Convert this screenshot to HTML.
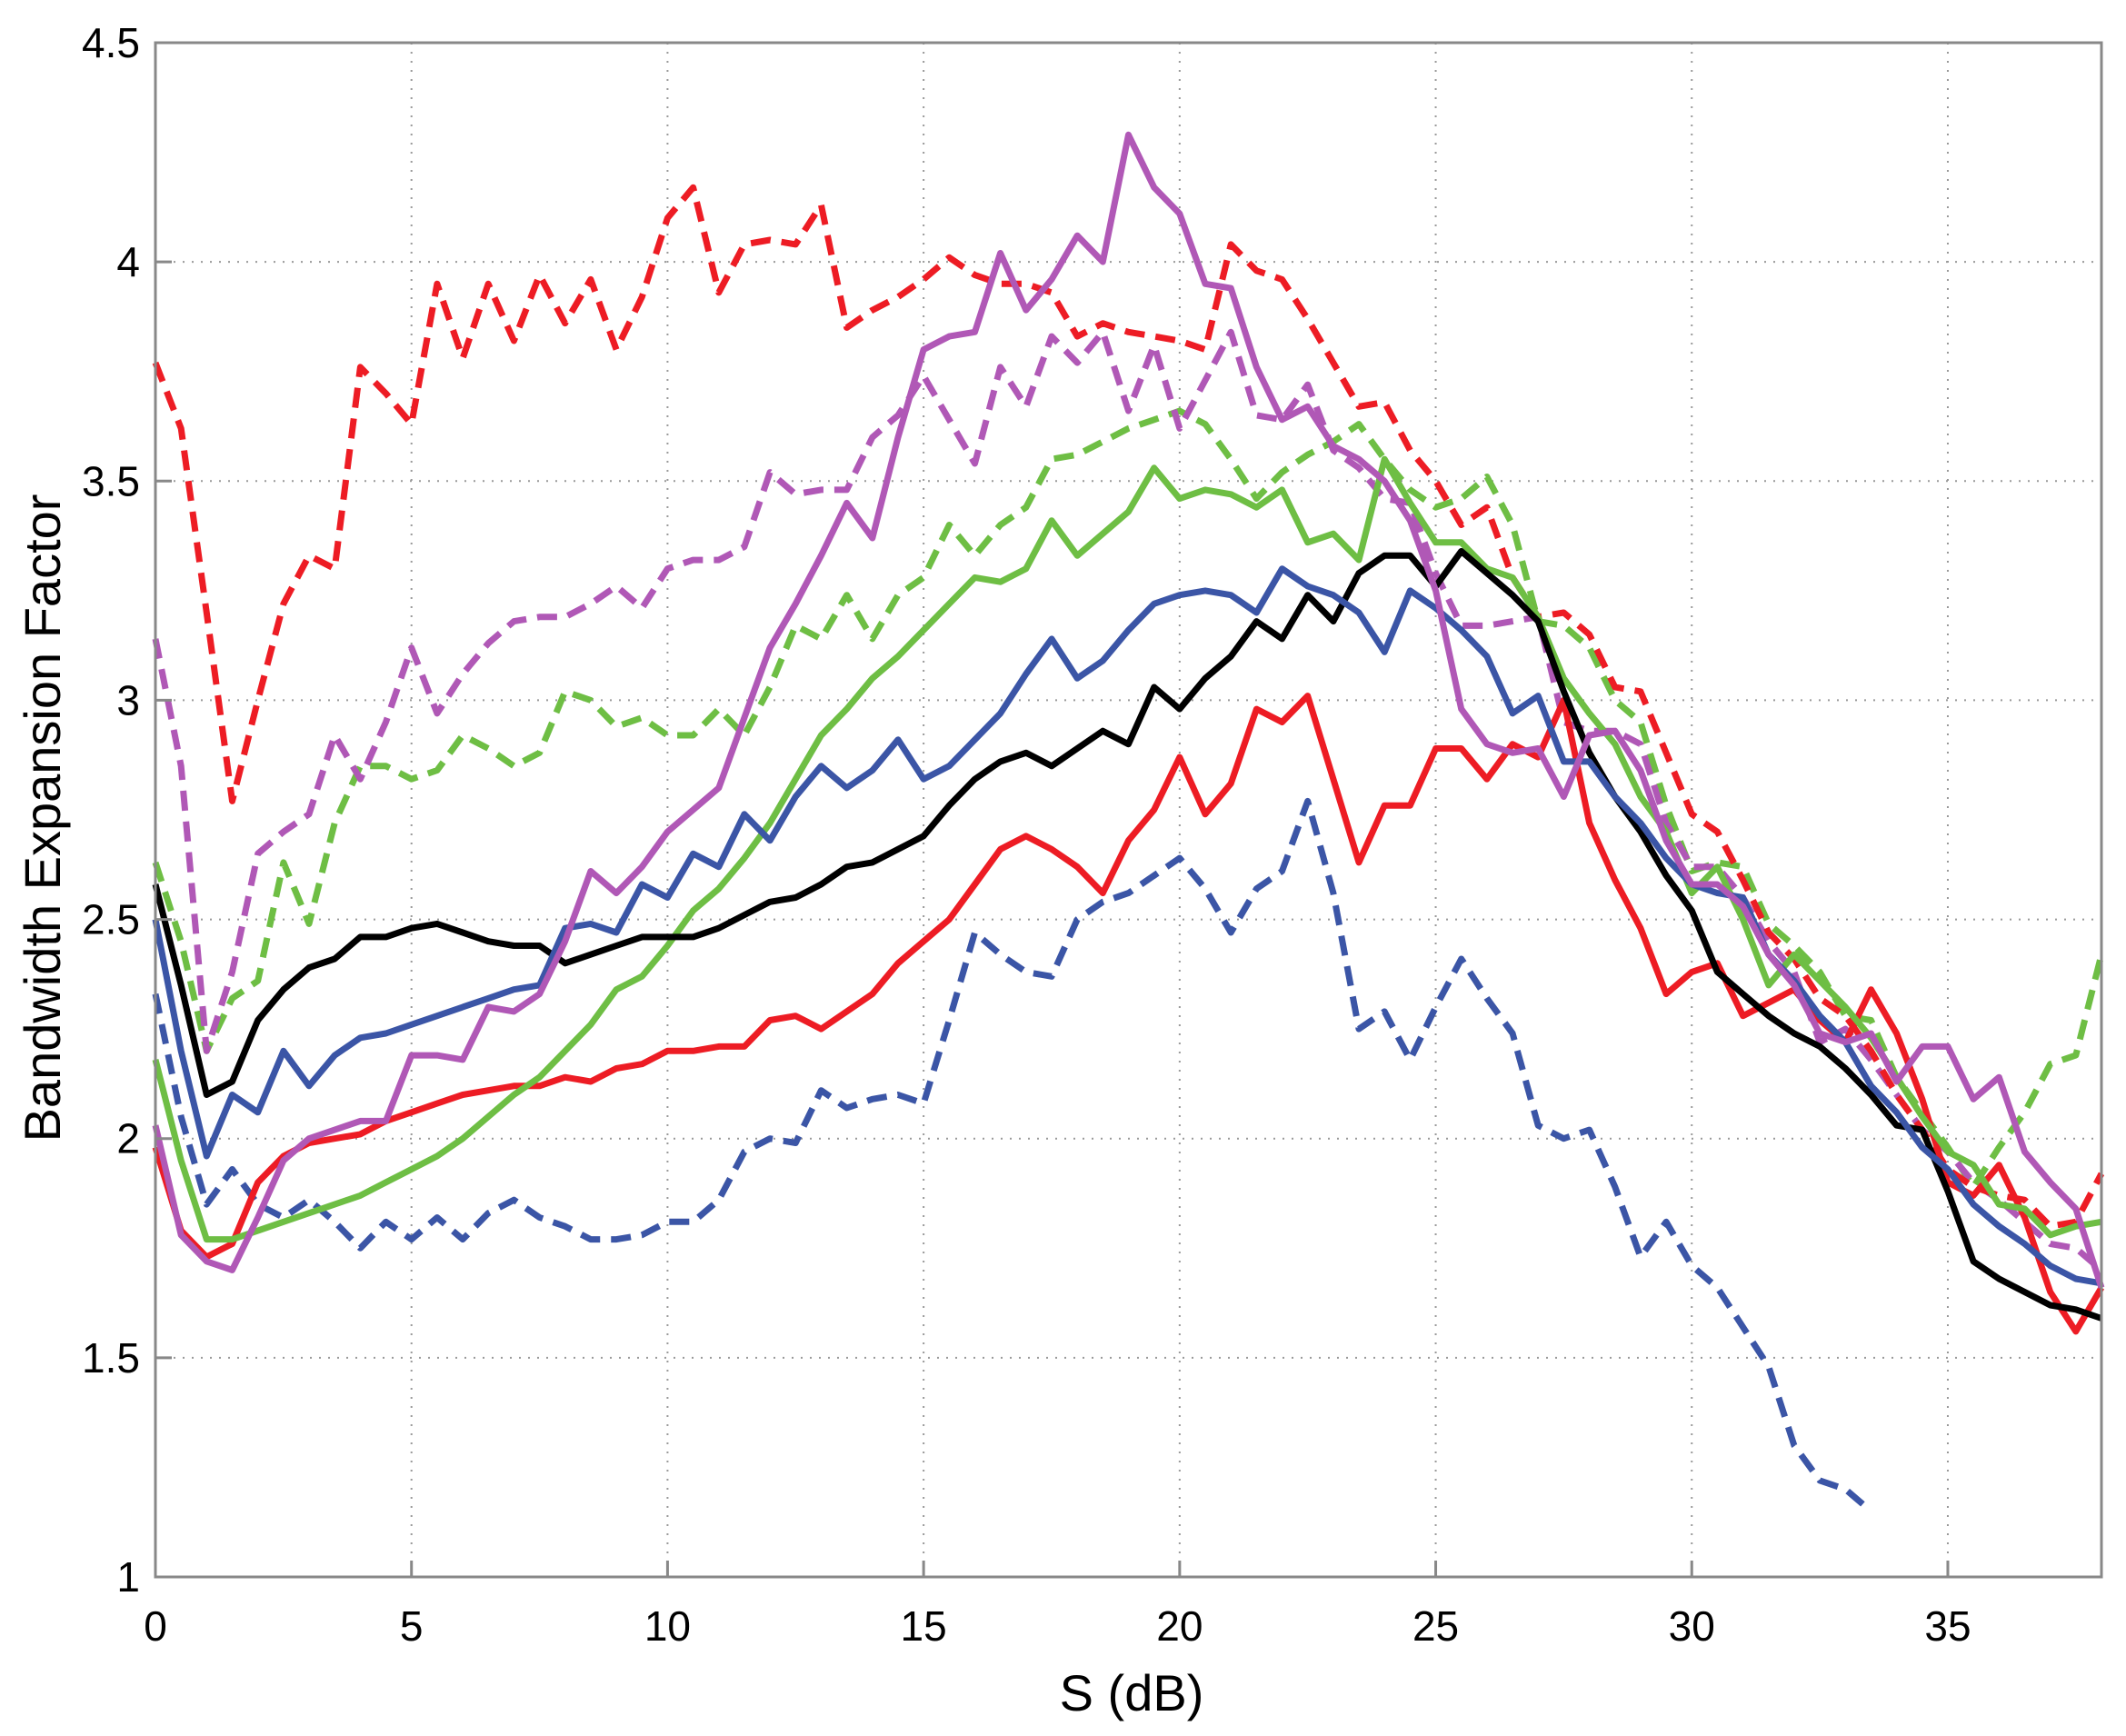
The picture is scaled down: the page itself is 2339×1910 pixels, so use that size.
<!DOCTYPE html>
<html><head><meta charset="utf-8"><style>
html,body{margin:0;padding:0;background:#fff;}
svg{display:block;font-family:"Liberation Sans",Arial,sans-serif;}
</style></head><body>
<svg id="chart" width="2339" height="1910" viewBox="0 0 2339 1910" xmlns="http://www.w3.org/2000/svg">
<g id="grid"></g>
<g id="series"></g>
<g id="axes"></g>
<text x="0" y="0" transform="translate(66,900) rotate(-90)" text-anchor="middle" font-size="56">Bandwidth Expansion Factor</text>
<text x="1245" y="1882" text-anchor="middle" font-size="56">S (dB)</text>
</svg>
<script>
const xTicks=[0,5,10,15,20,25,30,35];
const yTicks=[1,1.5,2,2.5,3,3.5,4,4.5];
const yTickLabels=["1","1.5","2","2.5","3","3.5","4","4.5"];
const blackSolid=[2.58,2.35,2.1,2.13,2.27,2.34,2.39,2.41,2.46,2.46,2.48,2.49,2.47,2.45,2.44,2.44,2.40,2.42,2.44,2.46,2.46,2.46,2.48,2.51,2.54,2.55,2.58,2.62,2.63,2.66,2.69,2.76,2.82,2.86,2.88,2.85,2.89,2.93,2.90,3.03,2.98,3.05,3.10,3.18,3.14,3.24,3.18,3.29,3.33,3.33,3.26,3.34,3.29,3.24,3.18,3.02,2.88,2.78,2.70,2.60,2.52,2.38,2.33,2.28,2.24,2.21,2.16,2.10,2.03,2.02,1.88,1.72,1.68,1.65,1.62,1.61,1.59];
const blueSolid=[2.5,2.2,1.96,2.1,2.06,2.2,2.12,2.19,2.23,2.24,2.26,2.28,2.30,2.32,2.34,2.35,2.48,2.49,2.47,2.58,2.55,2.65,2.62,2.74,2.68,2.78,2.85,2.80,2.84,2.91,2.82,2.85,2.91,2.97,3.06,3.14,3.05,3.09,3.16,3.22,3.24,3.25,3.24,3.20,3.30,3.26,3.24,3.20,3.11,3.25,3.21,3.16,3.10,2.97,3.01,2.86,2.86,2.78,2.72,2.64,2.58,2.56,2.55,2.42,2.36,2.28,2.22,2.12,2.06,1.98,1.93,1.85,1.80,1.76,1.71,1.68,1.67];
const blueDashed=[2.33,2.05,1.85,1.93,1.85,1.82,1.86,1.81,1.75,1.81,1.77,1.82,1.77,1.83,1.86,1.82,1.80,1.77,1.77,1.78,1.81,1.81,1.86,1.97,2.0,1.99,2.11,2.07,2.09,2.10,2.08,2.27,2.47,2.42,2.38,2.37,2.50,2.54,2.56,2.60,2.64,2.57,2.47,2.57,2.61,2.77,2.56,2.25,2.29,2.18,2.30,2.41,2.32,2.24,2.03,2.00,2.02,1.89,1.73,1.81,1.71,1.66,1.57,1.48,1.30,1.22,1.20,1.15];
const redSolid=[1.98,1.79,1.73,1.76,1.90,1.96,1.99,2.00,2.01,2.04,2.06,2.08,2.10,2.11,2.12,2.12,2.14,2.13,2.16,2.17,2.20,2.20,2.21,2.21,2.27,2.28,2.25,2.29,2.33,2.40,2.45,2.50,2.58,2.66,2.69,2.66,2.62,2.56,2.68,2.75,2.87,2.74,2.81,2.98,2.95,3.01,2.82,2.63,2.76,2.76,2.89,2.89,2.82,2.90,2.87,3.00,2.72,2.59,2.48,2.33,2.38,2.40,2.28,2.31,2.34,2.27,2.22,2.34,2.24,2.09,1.90,1.87,1.94,1.82,1.65,1.56,1.66];
const redDashed=[3.77,3.62,3.20,2.77,3.00,3.22,3.33,3.30,3.76,3.70,3.63,3.95,3.78,3.95,3.82,3.97,3.86,3.96,3.80,3.92,4.10,4.17,3.93,4.04,4.05,4.04,4.13,3.85,3.89,3.92,3.96,4.01,3.97,3.95,3.95,3.93,3.83,3.86,3.84,3.83,3.82,3.80,4.04,3.98,3.96,3.87,3.77,3.67,3.68,3.57,3.50,3.40,3.44,3.28,3.19,3.20,3.15,3.03,3.02,2.88,2.74,2.70,2.59,2.47,2.41,2.32,2.28,2.20,2.10,2.02,1.93,1.89,1.87,1.86,1.80,1.81,1.92];
const magentaSolid=[2.03,1.78,1.72,1.70,1.82,1.95,2.00,2.02,2.04,2.04,2.19,2.19,2.18,2.30,2.29,2.33,2.45,2.61,2.56,2.62,2.70,2.75,2.80,2.96,3.12,3.22,3.33,3.45,3.37,3.60,3.80,3.83,3.84,4.02,3.89,3.96,4.06,4.00,4.29,4.17,4.11,3.95,3.94,3.76,3.64,3.67,3.58,3.55,3.50,3.41,3.25,2.98,2.90,2.88,2.89,2.78,2.92,2.93,2.84,2.68,2.58,2.58,2.53,2.42,2.35,2.24,2.22,2.24,2.13,2.21,2.21,2.09,2.14,1.97,1.90,1.84,1.66];
const magentaDashed=[3.14,2.85,2.20,2.38,2.65,2.70,2.74,2.92,2.82,2.95,3.12,2.97,3.06,3.13,3.18,3.19,3.19,3.22,3.26,3.21,3.30,3.32,3.32,3.35,3.52,3.47,3.48,3.48,3.60,3.65,3.74,3.64,3.54,3.76,3.67,3.83,3.77,3.84,3.66,3.81,3.62,3.73,3.84,3.65,3.64,3.72,3.57,3.53,3.46,3.45,3.29,3.17,3.17,3.18,3.19,2.95,2.93,2.93,2.90,2.72,2.62,2.62,2.55,2.45,2.38,2.22,2.25,2.18,2.10,2.02,1.97,1.90,1.86,1.81,1.76,1.75,1.70];
const greenSolid=[2.18,1.95,1.77,1.77,1.79,1.81,1.83,1.85,1.87,1.90,1.93,1.96,2.00,2.05,2.10,2.14,2.20,2.26,2.34,2.37,2.44,2.52,2.57,2.64,2.72,2.82,2.92,2.98,3.05,3.10,3.16,3.22,3.28,3.27,3.30,3.41,3.33,3.38,3.43,3.53,3.46,3.48,3.47,3.44,3.48,3.36,3.38,3.32,3.55,3.45,3.36,3.36,3.30,3.28,3.19,3.05,2.97,2.90,2.78,2.70,2.56,2.62,2.50,2.35,2.42,2.36,2.30,2.23,2.14,2.05,1.97,1.94,1.85,1.84,1.78,1.80,1.81];
const greenDashed=[2.63,2.45,2.20,2.32,2.36,2.63,2.49,2.72,2.85,2.85,2.82,2.84,2.92,2.89,2.85,2.88,3.02,3.00,2.94,2.96,2.92,2.92,2.98,2.92,3.03,3.17,3.14,3.24,3.14,3.24,3.28,3.40,3.33,3.40,3.44,3.55,3.56,3.59,3.62,3.64,3.66,3.63,3.55,3.46,3.52,3.56,3.59,3.63,3.55,3.48,3.44,3.46,3.51,3.40,3.18,3.17,3.12,3.00,2.95,2.76,2.61,2.63,2.62,2.49,2.44,2.38,2.28,2.27,2.14,2.06,1.98,1.89,1.98,2.06,2.17,2.19,2.42];
const xStep=0.5;

const L=171,R=2312,T=47,B=1735,X0=0,X1=38,Y0=1,Y1=4.5;
const sx=v=>L+(v-X0)/(X1-X0)*(R-L);
const sy=v=>B-(v-Y0)/(Y1-Y0)*(B-T);
const NS="http://www.w3.org/2000/svg";
function mk(tag,attrs,parent){const e=document.createElementNS(NS,tag);for(const k in attrs)e.setAttribute(k,attrs[k]);parent.appendChild(e);return e;}
const grid=document.getElementById('grid'),axes=document.getElementById('axes'),ser=document.getElementById('series');

xTicks.forEach(t=>{
  if(t>X0&&t<X1){const g=mk('line',{x1:sx(t),x2:sx(t),y1:T,y2:B,stroke:'#999','stroke-width':2,'stroke-dasharray':'2,8'},grid);
  
  }
  const tk=mk('line',{x1:sx(t),x2:sx(t),y1:B,y2:B-18,stroke:'#888','stroke-width':3},axes);
  
  
  const lb=mk('text',{x:sx(t),y:B+70,'text-anchor':'middle','font-size':46},axes);
  lb.textContent=String(t);
  
  
});
yTicks.forEach((t,i)=>{
  if(t>Y0&&t<Y1){const g=mk('line',{x1:L,x2:R,y1:sy(t),y2:sy(t),stroke:'#999','stroke-width':2,'stroke-dasharray':'2,8'},grid);
  
  }
  const tk=mk('line',{x1:L,x2:L+18,y1:sy(t),y2:sy(t),stroke:'#888','stroke-width':3},axes);
  
  
  const lb=mk('text',{x:L-17,y:sy(t)+16,'text-anchor':'end','font-size':46},axes);
  lb.textContent=yTickLabels[i];
  
  
});
const fr=mk('rect',{x:L,y:T,width:R-L,height:B-T,fill:'none',stroke:'#888','stroke-width':3},axes);



function drawLine(vals,color,dashed,name){
  const pts=vals.map((v,i)=>sx(i*xStep).toFixed(1)+','+sy(v).toFixed(1)).join(' ');
  const a={points:pts,fill:'none',stroke:color,'stroke-width':7,'stroke-linejoin':'round'};
  if(dashed)a['stroke-dasharray']='22,12';
  const p=mk('polyline',a,ser);
  
  
}
drawLine(blueDashed,'#3b55a6',true,'blue-dashed-series');
drawLine(greenDashed,'#6ebe44',true,'green-dashed-series');
drawLine(magentaDashed,'#b058b6',true,'magenta-dashed-series');
drawLine(redDashed,'#ed1c24',true,'red-dashed-series');
drawLine(redSolid,'#ed1c24',false,'red-solid-series');
drawLine(greenSolid,'#6ebe44',false,'green-solid-series');
drawLine(blackSolid,'#000000',false,'black-solid-series');
drawLine(blueSolid,'#3b55a6',false,'blue-solid-series');
drawLine(magentaSolid,'#b058b6',false,'magenta-solid-series');
</script>
</body></html>
